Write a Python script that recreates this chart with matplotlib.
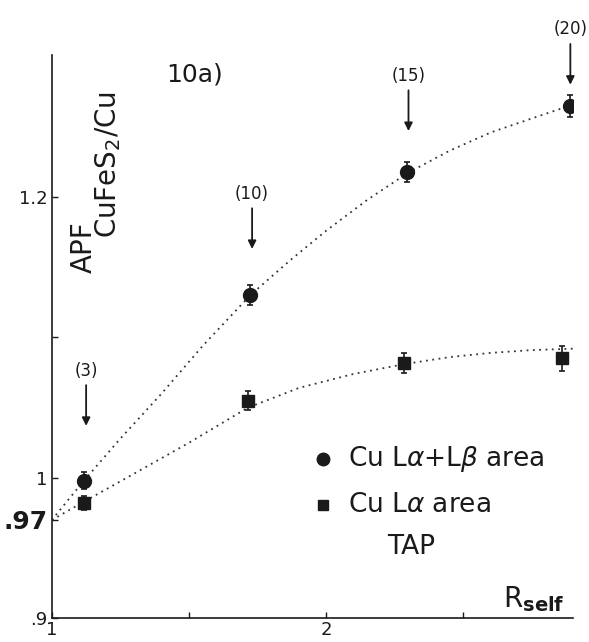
import matplotlib.pyplot as plt

r_self = [1.117, 1.723, 2.296, 2.887]
apf_circle = [0.998, 1.130, 1.218, 1.265]
err_circle = [0.006, 0.007, 0.007, 0.008]

r_square = [1.117, 1.715, 2.285, 2.858]
apf_square = [0.982, 1.055, 1.082, 1.085]
err_square = [0.005, 0.007, 0.007, 0.009]

# Dotted guide curves
curve_circle_x = [1.0, 1.117, 1.25, 1.40, 1.55, 1.723, 1.869, 2.0, 2.15, 2.296, 2.45, 2.60, 2.75, 2.887]
curve_circle_y = [0.970, 0.998, 1.028, 1.060, 1.094, 1.130, 1.155, 1.176, 1.198, 1.217, 1.233, 1.246, 1.256, 1.265]
curve_square_x = [1.0, 1.117, 1.30, 1.50, 1.715, 1.90, 2.10, 2.285, 2.45, 2.60, 2.75, 2.90]
curve_square_y = [0.970, 0.983, 1.003, 1.025, 1.050, 1.064, 1.074, 1.081, 1.086, 1.089, 1.091, 1.092]

# Arrow annotations: label, x, arrow tail y, arrow head y
arrow_labels = ["(3)", "(10)", "(15)", "(20)"]
arrow_x = [1.125, 1.73, 2.30, 2.89]
arrow_top = [1.066, 1.192, 1.276, 1.309]
arrow_tip = [1.037, 1.163, 1.247, 1.280]

yticks = [0.9, 0.97, 1.0, 1.1, 1.2]
ytick_labels = [".9", ".97", "1", "", "1.2"]
xticks = [1.0, 1.5, 2.0, 2.5]
xtick_labels = ["1", "", "2", ""]

fig = plt.figure(figsize=(5.89, 6.42), dpi=100)
ax = fig.add_axes([0.088, 0.037, 0.885, 0.877])

ink = "#1a1a1a"
ax.plot(curve_circle_x, curve_circle_y, linestyle=(0, (1, 2.5)), color="#333333", lw=1.3)
ax.plot(curve_square_x, curve_square_y, linestyle=(0, (1, 2.5)), color="#333333", lw=1.3)

ax.errorbar(r_self, apf_circle, yerr=err_circle, fmt="o", color=ink, ms=10,
            capsize=2.5, elinewidth=1.2, capthick=1.2)
ax.errorbar(r_square, apf_square, yerr=err_square, fmt="s", color=ink, ms=9,
            capsize=2.5, elinewidth=1.2, capthick=1.2)

for lab, x, y0, y1 in zip(arrow_labels, arrow_x, arrow_top, arrow_tip):
    ax.annotate("", xy=(x, y1), xytext=(x, y0),
                arrowprops=dict(arrowstyle="-|>", color=ink, lw=1.3,
                                mutation_scale=12, shrinkA=0, shrinkB=0))
    ax.text(x, y0 + 0.004, lab, ha="center", va="bottom", fontsize=12, color=ink)

ax.set_xlim(1.0, 2.90)
ax.set_ylim(0.9, 1.301)
ax.spines["top"].set_visible(False)
ax.spines["right"].set_visible(False)
for s in ("left", "bottom"):
    ax.spines[s].set_linewidth(1.2)
    ax.spines[s].set_color(ink)

ax.set_yticks(yticks)
ax.set_yticklabels(ytick_labels)
ax.set_xticks(xticks)
ax.set_xticklabels(xtick_labels)
ax.tick_params(direction="in", length=4, width=1, labelsize=13, colors=ink, pad=3)
ax.tick_params(axis="x", pad=2)
for t in ax.get_yticklabels():
    if t.get_text() == ".97":
        t.set_fontsize(18)
        t.set_fontweight("bold")

ax.text(1.52, 1.287, "10a)", fontsize=18, ha="center", va="center", color=ink)
# y label: "APF" with a large subscript
ax.text(1.117, 1.164, "APF", rotation=90, fontsize=20, ha="center", va="center", color=ink)
ax.text(1.205, 1.223, r"CuFeS$_2$/Cu", rotation=90, fontsize=20,
        ha="center", va="center", color=ink)

ax.plot([1.99], [1.0136], "o", color=ink, ms=9)
ax.plot([1.99], [0.981], "s", color=ink, ms=7)
ax.text(2.08, 1.0136, r"Cu L$\alpha$+L$\beta$ area", fontsize=19, va="center", color=ink)
ax.text(2.08, 0.981, r"Cu L$\alpha$ area", fontsize=19, va="center", color=ink)
ax.text(2.31, 0.951, "TAP", fontsize=19, va="center", ha="center", color=ink)
ax.text(2.87, 0.903, r"R$_{\mathbf{self}}$", fontsize=20, ha="right", va="bottom", color=ink)

fig.savefig("out.png", dpi=100)
